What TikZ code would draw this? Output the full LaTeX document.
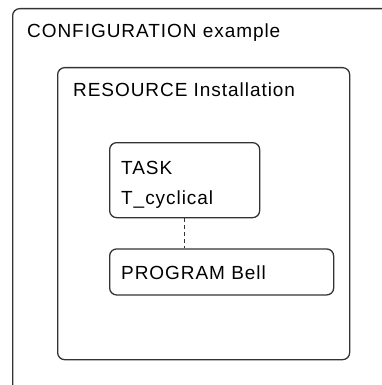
\documentclass[tikz,border=0pt]{standalone}
\usepackage{fontspec}
\setmainfont{Liberation Sans}[LetterSpace=5]
\usetikzlibrary{positioning}

\tikzset{
  frame/.style={draw=black!80, line width=1.3pt, rounded corners=7pt,
    anchor=north west, inner sep=0pt},
  tag/.style={anchor=base west, inner sep=0pt, align=left,
    font=\fontsize{19}{30}\selectfont},
}

\begin{document}
\begin{tikzpicture}[x=1pt, y=-1pt]
    \useasboundingbox (0,0) rectangle (382,385);
    % nested containers
    \node[frame, minimum width=420pt, minimum height=440pt] (config) at (12,8) {};
    \node[frame, minimum width=292pt, minimum height=292pt] (resource) at (57,67) {};
    \node[frame, minimum width=150pt, minimum height=75pt] (task) at (109,142) {};
    \node[frame, minimum width=224pt, minimum height=46pt,
        below=30pt of task.south west, anchor=north west] (program) {};
    % titles (base = last line)
    \node[tag] (configtag) at ([shift={(15,30)}]config.north west) {CONFIGURATION example};
    \node[tag] (resourcetag) at ([shift={(16,30)}]resource.north west) {RESOURCE Installation};
    \node[tag] (tasktag) at ([shift={(12,62)}]task.north west) {TASK\\T\_cyclical};
    \node[tag] (programtag) at ([shift={(12,31)}]program.north west) {PROGRAM Bell};
    % link task - program
    \draw[black!80, line width=1pt, dash pattern=on 4pt off 3pt]
        (task.south) -- (task.south |- program.north);
\end{tikzpicture}
\end{document}
